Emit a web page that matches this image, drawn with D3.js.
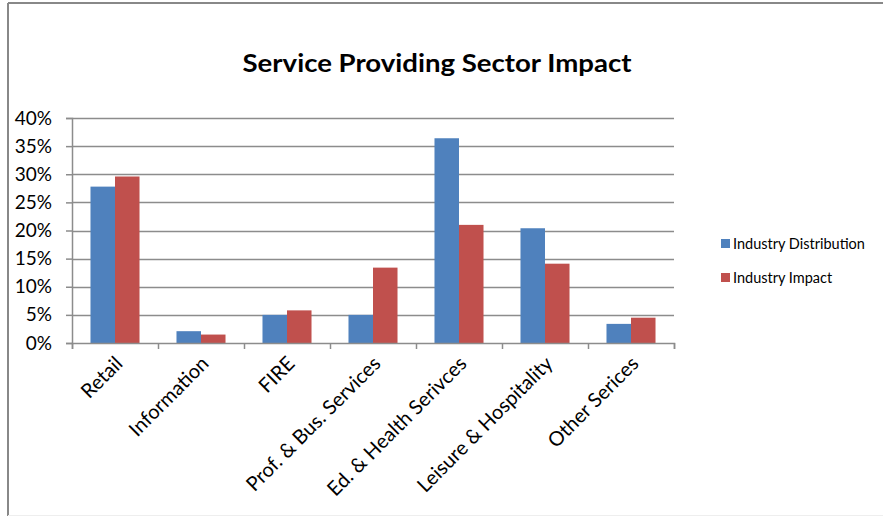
<!DOCTYPE html>
<html>
<head>
<meta charset="utf-8">
<script src="https://d3js.org/d3.v7.min.js"></script>
<style>
    body { margin: 0; padding: 0; background: #fff; }
    text { font-family: Lato, "Open Sans", sans-serif; }
</style>
</head>
<body>
<div id="my_dataviz"></div>
<script>
    // categories and series values (percent)
    var categories = ["Retail", "Information", "FIRE", "Prof. & Bus. Services",
        "Ed. & Health Serivces", "Leisure & Hospitality", "Other Serices"];
    var seriesNames = ["Industry Distribution", "Industry Impact"];
    var distribution = [27.8, 2.1, 5.0, 5.0, 36.4, 20.4, 3.4];
    var impact = [29.6, 1.5, 5.8, 13.4, 21.0, 14.1, 4.5];
    var yTicks = [0, 5, 10, 15, 20, 25, 30, 35, 40];

    var colors = ["#4f81bd", "#c0504d"];

    var W = 883, H = 516;
    var margin = { top: 118, right: 209, bottom: 173, left: 72 },
        width = W - margin.left - margin.right,
        height = H - margin.top - margin.bottom;

    var root = d3.select("#my_dataviz")
        .append("svg")
        .attr("width", W)
        .attr("height", H);

    // outer frame
    root.append("line").attr("x1", 8).attr("y1", 3).attr("x2", 883).attr("y2", 3)
        .style("stroke", "#888").style("stroke-width", 2);
    root.append("line").attr("x1", 8).attr("y1", 3).attr("x2", 8).attr("y2", 516)
        .style("stroke", "#888").style("stroke-width", 2);
    root.append("line").attr("x1", 8).attr("y1", 515.5).attr("x2", 883).attr("y2", 515.5)
        .style("stroke", "#eee").style("stroke-width", 1);

    // title
    root.append("text")
        .attr("x", 437)
        .attr("y", 72)
        .attr("text-anchor", "middle")
        .attr("textLength", 389)
        .attr("lengthAdjust", "spacingAndGlyphs")
        .style("font-size", "25px")
        .style("font-weight", "bold")
        .style("fill", "#000")
        .text("Service Providing Sector Impact");

    var svg = root.append("g")
        .attr("transform", "translate(" + margin.left + "," + margin.top + ")");

    var x0 = d3.scaleBand()
        .domain(categories)
        .range([0, width])
        .paddingInner(0.43)
        .paddingOuter(0.215);

    var x1 = d3.scaleBand()
        .domain(seriesNames)
        .range([0, x0.bandwidth()]);

    var y = d3.scaleLinear()
        .domain([0, 40])
        .range([height, 0]);

    // grid lines
    svg.append("g")
        .selectAll("line")
        .data(yTicks.slice(1))
        .enter()
        .append("line")
        .attr("x1", 0)
        .attr("x2", width)
        .attr("y1", function (d) { return Math.round(y(d)) + 0.5; })
        .attr("y2", function (d) { return Math.round(y(d)) + 0.5; })
        .style("stroke", "#8c8c8c")
        .style("stroke-width", 1.5);

    // y axis
    var yAxis = svg.append("g")
        .call(d3.axisLeft(y).tickValues(yTicks).tickSize(6).tickPadding(14)
            .tickFormat(function (d) { return d + "%"; }));
    yAxis.select(".domain").style("stroke", "#8c8c8c").style("stroke-width", 1.5);
    yAxis.selectAll(".tick line").style("stroke", "#8c8c8c").style("stroke-width", 1.5);
    yAxis.selectAll("text")
        .style("font-size", "19px")
        .style("font-family", "Lato, 'Open Sans', sans-serif")
        .style("fill", "#000");

    // bars
    var rows = categories.map(function (c, i) {
        return { cat: c, values: [distribution[i], impact[i]] };
    });

    var groups = svg.append("g")
        .selectAll("g")
        .data(rows)
        .enter()
        .append("g")
        .attr("transform", function (d) { return "translate(" + x0(d.cat) + ",0)"; });

    groups.selectAll("rect")
        .data(function (d) {
            return d.values.map(function (v, j) { return { name: seriesNames[j], value: v, j: j }; });
        })
        .enter()
        .append("rect")
        .attr("x", function (d) { return x1(d.name); })
        .attr("width", x1.bandwidth())
        .attr("y", function (d) { return y(d.value); })
        .attr("height", function (d) { return height - y(d.value); })
        .style("fill", function (d) { return colors[d.j]; });

    // x axis with ticks at category boundaries
    var xb = d3.scaleLinear().domain([0, categories.length]).range([0, width]);
    var xAxis = svg.append("g")
        .attr("transform", "translate(0," + height + ")")
        .call(d3.axisBottom(xb).tickValues(d3.range(0, categories.length + 1)).tickSize(6)
            .tickSizeOuter(6).tickFormat(""));
    xAxis.select(".domain").style("stroke", "#8c8c8c").style("stroke-width", 1.5);
    xAxis.selectAll(".tick line").style("stroke", "#8c8c8c").style("stroke-width", 1.5);

    // rotated category labels
    svg.append("g")
        .selectAll("text")
        .data(categories)
        .enter()
        .append("text")
        .attr("transform", function (d) {
            var cx = x0(d) + x0.bandwidth() / 2 + 4;
            return "translate(" + cx + "," + (height + 17) + ") rotate(-45)";
        })
        .attr("text-anchor", "end")
        .attr("dy", "0.35em")
        .style("font-size", "20px")
        .style("fill", "#000")
        .text(function (d) { return d; });

    // legend
    var legend = root.append("g")
        .selectAll("g")
        .data(seriesNames)
        .enter()
        .append("g")
        .attr("transform", function (d, i) { return "translate(721," + (239 + i * 34) + ")"; });
    legend.append("rect")
        .attr("width", 9)
        .attr("height", 9)
        .style("fill", function (d, i) { return colors[i]; });
    legend.append("text")
        .attr("x", 12)
        .attr("y", 9.5)
        .style("font-size", "14.5px")
        .style("fill", "#000")
        .text(function (d) { return d; });
</script>
</body>
</html>
